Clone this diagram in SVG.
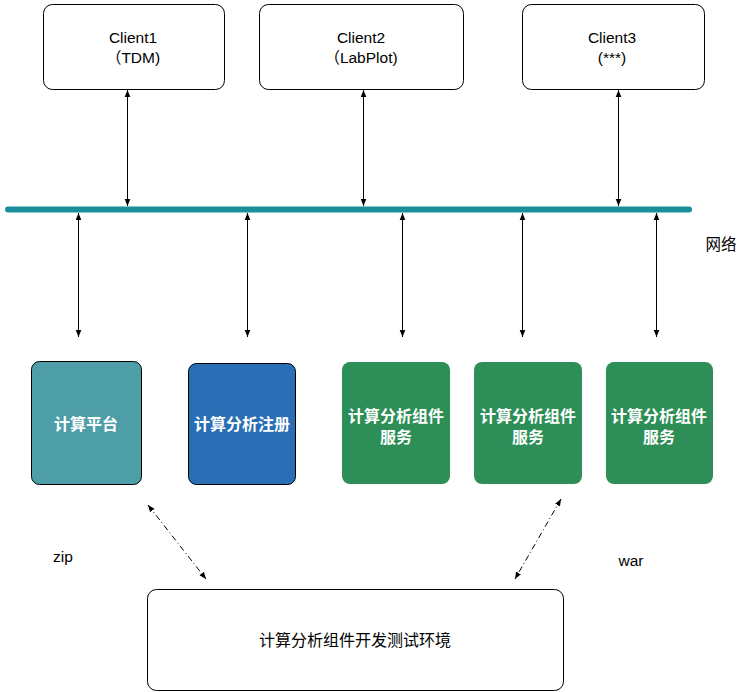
<svg xmlns="http://www.w3.org/2000/svg" width="750" height="692" viewBox="0 0 750 692">
<style>
.client{fill:#fff;stroke:#000;stroke-width:1}
.t{font-family:"Liberation Sans","Noto Sans CJK SC",sans-serif;font-size:15.5px;fill:#000;text-anchor:middle}
.w{font-family:"Liberation Sans","Noto Sans CJK SC",sans-serif;font-size:16px;font-weight:bold;fill:#fff;text-anchor:middle}
.c{stroke:#000;stroke-width:1;fill:none;marker-start:url(#a);marker-end:url(#a)}
.d{stroke:#000;stroke-width:1;fill:none;stroke-dasharray:6 3 1 3;marker-start:url(#a);marker-end:url(#a)}
.green{fill:#2d8f57}
</style>
<defs>
<marker id="a" viewBox="0 0 10 10" refX="10" refY="5" markerWidth="7" markerHeight="7" orient="auto-start-reverse" markerUnits="userSpaceOnUse">
<path d="M0,1 L10,5 L0,9 Z" fill="#000"/>
</marker>
</defs>
<g id="client1"><rect class="client" x="43.5" y="4.5" width="181" height="85" rx="9"/><text class="t" x="133" y="42.5">Client1</text><text class="t" x="133" y="63">（TDM)</text></g>
<g id="client2"><rect class="client" x="259.5" y="4.5" width="204" height="85" rx="9"/><text class="t" x="361" y="42.5">Client2</text><text class="t" x="361" y="63">（LabPlot)</text></g>
<g id="client3"><rect class="client" x="522.5" y="4.5" width="182" height="85" rx="9"/><text class="t" x="612" y="42.5">Client3</text><text class="t" x="612" y="63">(***)</text></g>
<g id="network"><line x1="8" y1="209.5" x2="689" y2="209.5" stroke="#1a8f9c" stroke-width="6" stroke-linecap="round"/><text class="t" x="721" y="250">网络</text></g>
<g id="platform"><rect x="31.5" y="361.5" width="110" height="123" rx="8" fill="#4e9ea8" stroke="#000"/><text class="w" x="86" y="430">计算平台</text></g>
<g id="register"><rect x="188.5" y="363.5" width="107" height="121" rx="8" fill="#2a6fb5" stroke="#000"/><text class="w" x="242" y="430">计算分析注册</text></g>
<g id="svc1"><rect class="green" x="342" y="362" width="108" height="122" rx="8"/><text class="w" x="396" y="422">计算分析组件</text><text class="w" x="396" y="443">服务</text></g>
<g id="svc2"><rect class="green" x="474" y="362" width="108" height="122" rx="8"/><text class="w" x="528" y="422">计算分析组件</text><text class="w" x="528" y="443">服务</text></g>
<g id="svc3"><rect class="green" x="606" y="362" width="107" height="122" rx="8"/><text class="w" x="659" y="422">计算分析组件</text><text class="w" x="659" y="443">服务</text></g>
<g id="devenv"><rect class="client" x="147.5" y="589.5" width="416" height="101" rx="9"/><text class="t" x="355" y="646" style="font-size:16px">计算分析组件开发测试环境</text></g>
<g id="labels"><text class="t" x="63" y="562">zip</text><text class="t" x="631" y="566">war</text></g>
<g id="connectors">
<line class="c" x1="127.5" y1="90" x2="127.5" y2="206"/>
<line class="c" x1="363.5" y1="90" x2="363.5" y2="206"/>
<line class="c" x1="618.5" y1="90" x2="618.5" y2="206"/>
<line class="c" x1="78.5" y1="213" x2="78.5" y2="337"/>
<line class="c" x1="247.5" y1="213" x2="247.5" y2="337"/>
<line class="c" x1="402.5" y1="213" x2="402.5" y2="337"/>
<line class="c" x1="522.5" y1="213" x2="522.5" y2="337"/>
<line class="c" x1="656.5" y1="213" x2="656.5" y2="337"/>
<line class="d" x1="148" y1="505" x2="206" y2="579"/>
<line class="d" x1="561" y1="499" x2="515" y2="579"/>
</g>
</svg>
